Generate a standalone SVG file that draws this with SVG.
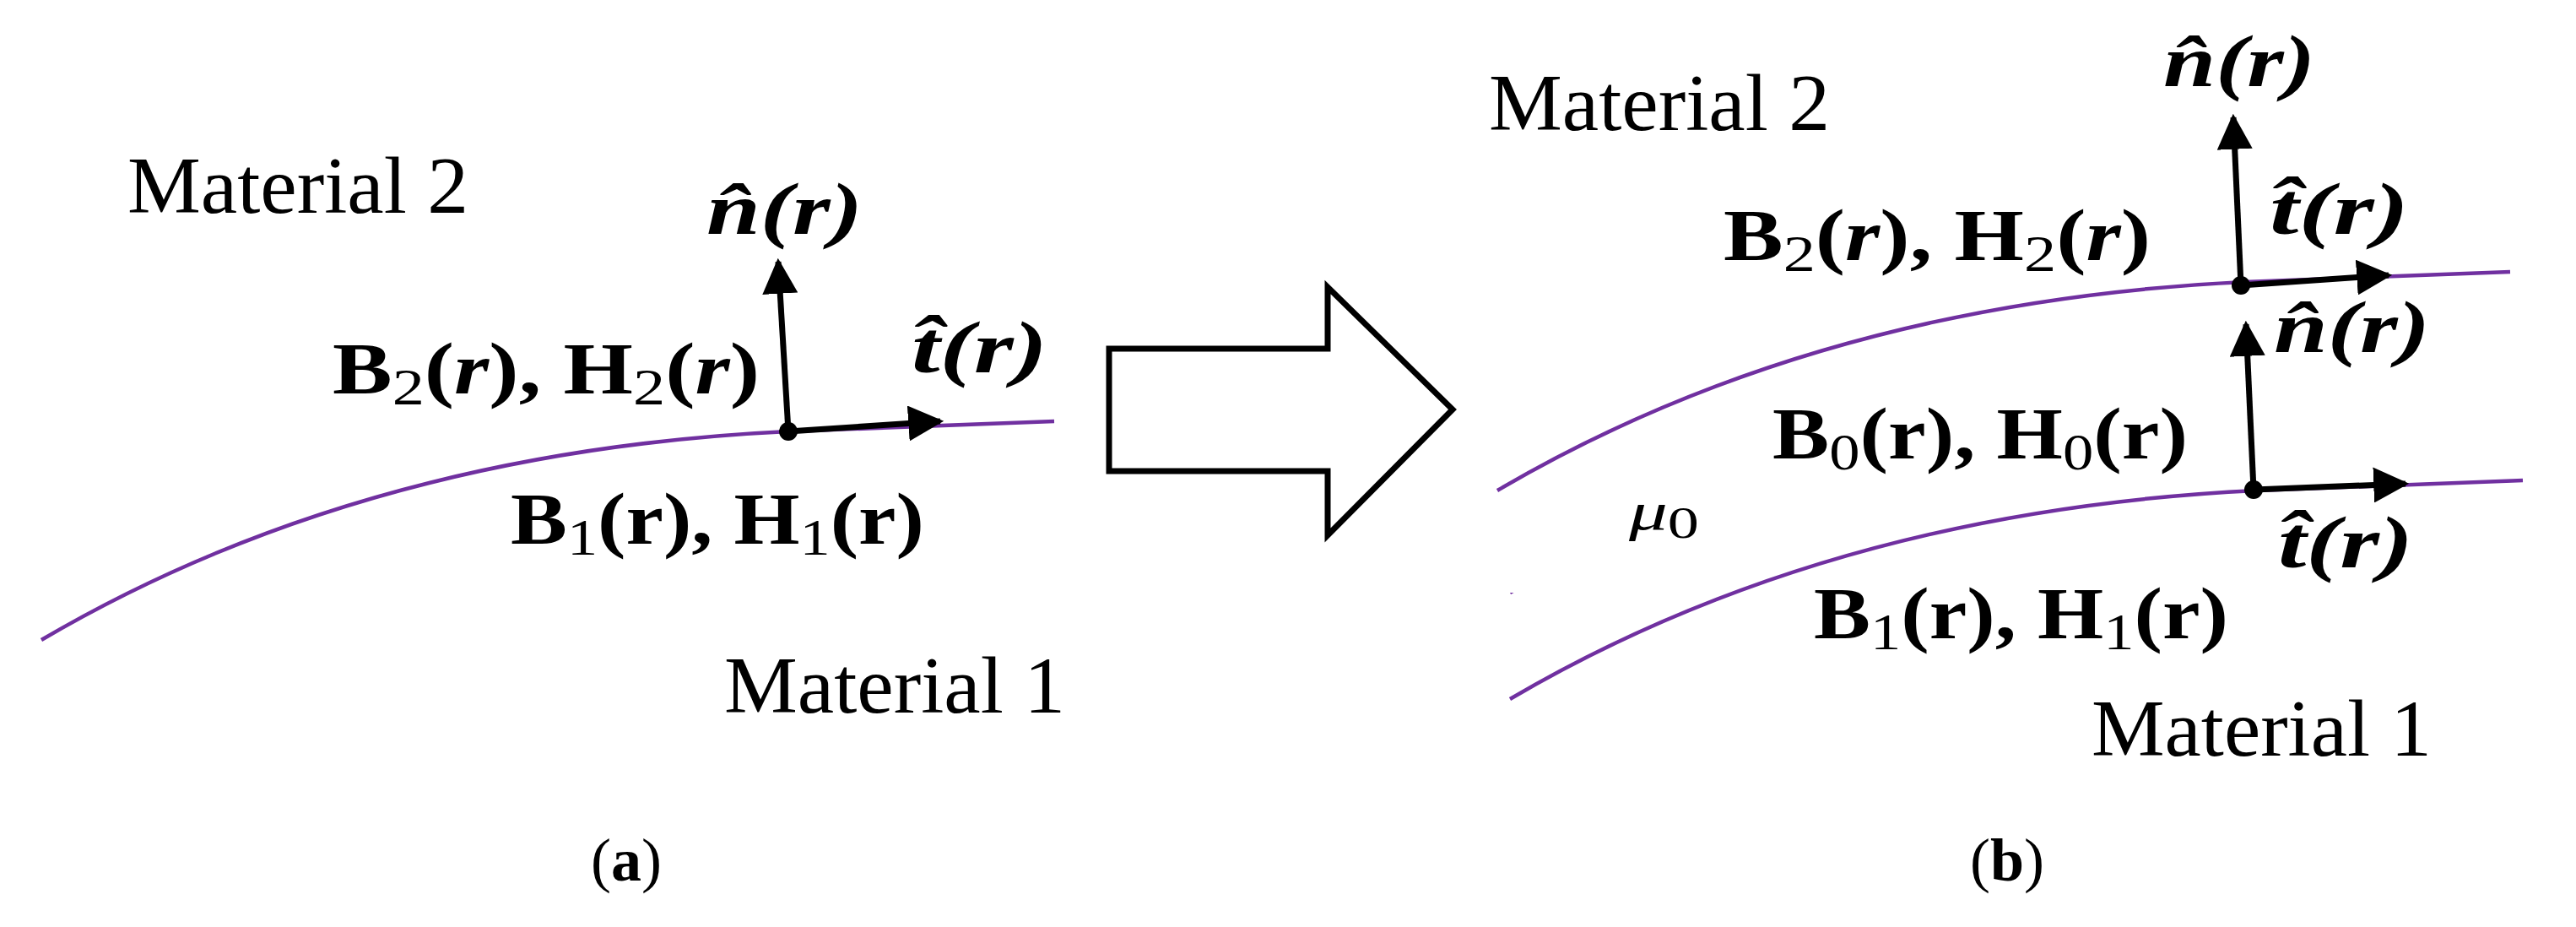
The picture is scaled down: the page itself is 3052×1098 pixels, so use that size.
<svg xmlns="http://www.w3.org/2000/svg" width="3052" height="1098" viewBox="0 0 3052 1098">
<style>
text{font-family:"Liberation Serif","DejaVu Serif",serif;fill:#000}
.mat{font-size:96px}
.eq{font-size:86px;font-weight:bold}
.sub{font-size:62px;font-weight:normal}
.it{font-style:italic}
.cur{fill:none;stroke:#7030A0;stroke-width:4.5}
.vec{stroke:#000;stroke-width:7;fill:none}
</style>
<defs>
<path id="P" d="M0 0 Q380 -223 885 -247 Q1050 -253 1200 -259"/>
<marker id="ah" viewBox="0 0 10 10" refX="9" refY="5" markerWidth="6" markerHeight="6" markerUnits="strokeWidth" orient="auto"><path d="M0 0 L10 5 L0 10 Z" fill="#000"/></marker>
<mask id="m"><rect width="3052" height="1098" fill="#fff"/><rect x="2095" y="455" width="500" height="100" fill="#000"/></mask>
</defs>
<g id="connectors">
<use href="#P" class="cur" transform="translate(49 758)"/>
<use href="#P" class="cur" transform="translate(1774 581)"/>
<use href="#P" class="cur" transform="translate(1789 828)"/>
<use href="#P" class="cur" style="stroke-dasharray:26 22" transform="translate(1789 702)" mask="url(#m)"/>
<line class="vec" x1="934" y1="511" x2="922" y2="310" marker-end="url(#ah)"/>
<line class="vec" x1="934" y1="511" x2="1114" y2="499" marker-end="url(#ah)"/>
<line class="vec" x1="2655" y1="338" x2="2646" y2="139" marker-end="url(#ah)"/>
<line class="vec" x1="2655" y1="338" x2="2830" y2="326" marker-end="url(#ah)"/>
<line class="vec" x1="2670" y1="580" x2="2661" y2="384" marker-end="url(#ah)"/>
<line class="vec" x1="2670" y1="580" x2="2850" y2="573" marker-end="url(#ah)"/>
</g>
<g id="dots" fill="#000">
<circle cx="934" cy="511" r="11"/>
<circle cx="2655" cy="338" r="11"/>
<circle cx="2670" cy="580" r="11"/>
</g>
<g id="big-arrow"><path d="M1314 413 H1573 V340 L1721 485 L1573 634 V558 H1314 Z" fill="#fff" stroke="#000" stroke-width="7"/></g>
<g id="panel-a">
<text class="mat" x="151" y="252" textLength="404" lengthAdjust="spacingAndGlyphs">Material 2</text>
<text class="mat" x="858" y="844" textLength="404" lengthAdjust="spacingAndGlyphs">Material 1</text>
<text class="eq it" x="837" y="277" textLength="185" lengthAdjust="spacingAndGlyphs">n̂(r)</text>
<text class="eq it" x="1080" y="441" textLength="161" lengthAdjust="spacingAndGlyphs">t̂(r)</text>
<text class="eq" x="394" y="466" textLength="506" lengthAdjust="spacingAndGlyphs">B<tspan class="sub" dy="13">2</tspan><tspan dy="-13">(</tspan><tspan class="it">r</tspan>), H<tspan class="sub" dy="13">2</tspan><tspan dy="-13">(</tspan><tspan class="it">r</tspan>)</text>
<text class="eq" x="605" y="644" textLength="490" lengthAdjust="spacingAndGlyphs">B<tspan class="sub" dy="13">1</tspan><tspan dy="-13">(r), H</tspan><tspan class="sub" dy="13">1</tspan><tspan dy="-13">(r)</tspan></text>
<text class="mat" x="742" y="1043" text-anchor="middle" style="font-size:72px">(<tspan font-weight="bold">a</tspan>)</text>
</g>
<g id="panel-b">
<text class="mat" x="1764" y="154" textLength="404" lengthAdjust="spacingAndGlyphs">Material 2</text>
<text class="mat" x="2478" y="895" textLength="403" lengthAdjust="spacingAndGlyphs">Material 1</text>
<text class="eq it" x="2563" y="102" textLength="180" lengthAdjust="spacingAndGlyphs">n̂(r)</text>
<text class="eq it" x="2689" y="277" textLength="165" lengthAdjust="spacingAndGlyphs">t̂(r)</text>
<text class="eq it" x="2694" y="417" textLength="185" lengthAdjust="spacingAndGlyphs">n̂(r)</text>
<text class="eq it" x="2699" y="672" textLength="160" lengthAdjust="spacingAndGlyphs">t̂(r)</text>
<text class="eq" x="2042" y="308" textLength="506" lengthAdjust="spacingAndGlyphs">B<tspan class="sub" dy="13">2</tspan><tspan dy="-13">(</tspan><tspan class="it">r</tspan>), H<tspan class="sub" dy="13">2</tspan><tspan dy="-13">(</tspan><tspan class="it">r</tspan>)</text>
<text class="eq" x="2100" y="543" textLength="492" lengthAdjust="spacingAndGlyphs">B<tspan class="sub" dy="13">0</tspan><tspan dy="-13">(r), H</tspan><tspan class="sub" dy="13">0</tspan><tspan dy="-13">(r)</tspan></text>
<text class="eq" x="2149" y="756" textLength="491" lengthAdjust="spacingAndGlyphs">B<tspan class="sub" dy="13">1</tspan><tspan dy="-13">(r), H</tspan><tspan class="sub" dy="13">1</tspan><tspan dy="-13">(r)</tspan></text>
<text x="1930" y="627" style="font-size:64px;font-style:italic" textLength="83" lengthAdjust="spacingAndGlyphs">μ<tspan font-style="normal" dy="10" style="font-size:52px">0</tspan></text>
<text class="mat" x="2378" y="1043" text-anchor="middle" style="font-size:72px">(<tspan font-weight="bold">b</tspan>)</text>
</g>
</svg>
